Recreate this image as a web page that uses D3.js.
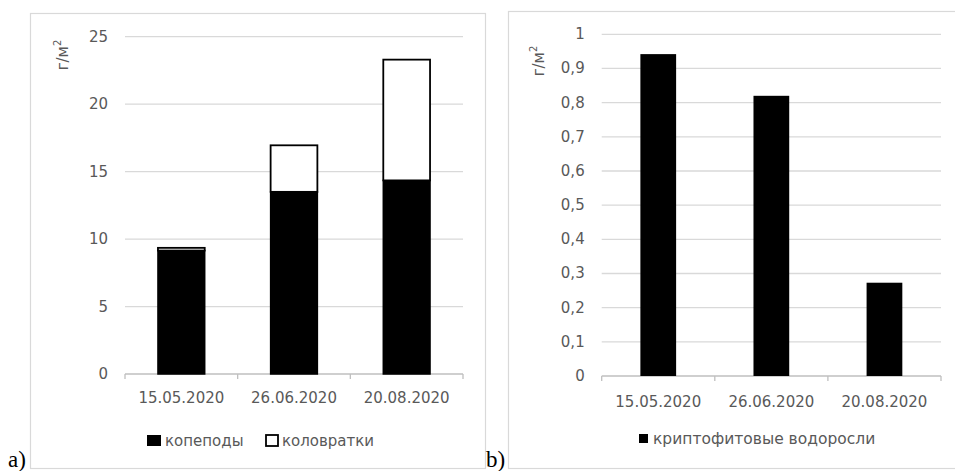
<!DOCTYPE html>
<html>
<head>
<meta charset="utf-8">
<script src="https://cdn.jsdelivr.net/npm/d3@7"></script>
<style>
  body { margin: 0; background: #fff; }
  svg { display: block; }
  text { font-family: "DejaVu Sans", sans-serif; fill: #595959; }
</style>
</head>
<body>
<svg id="chart" width="955" height="471"></svg>
<script>
// данные
const dates = ['15.05.2020', '26.06.2020', '20.08.2020'];
const copepods = [9.15, 13.5, 14.35];   // копеподы
const rotifers = [0.2, 3.45, 8.95];     // коловратки
const cryptophytes = [0.942, 0.82, 0.273]; // криптофитовые водоросли
const ticksA = [0, 5, 10, 15, 20, 25];
const ticksB = [0, 0.1, 0.2, 0.3, 0.4, 0.5, 0.6, 0.7, 0.8, 0.9, 1];

const svg = d3.select('#chart');
const grid = '#d9d9d9';

// рамки панелей
svg.append('rect').attr('x', 30.5).attr('y', 13.5).attr('width', 455).attr('height', 455)
  .attr('fill', 'none').attr('stroke', grid).attr('stroke-width', 1.2);
svg.append('rect').attr('x', 508.5).attr('y', 11.5).attr('width', 460).attr('height', 457)
  .attr('fill', 'none').attr('stroke', grid).attr('stroke-width', 1.2);

function drawPanel({ left, right, top, bottom, ticks, fmt, max, barRatio, titleX, titleY, labelY }) {
  const x = d3.scaleBand().domain(dates).range([left, right]).padding(0);
  const y = d3.scaleLinear().domain([0, max]).range([bottom, top]);
  const g = svg.append('g');

  // сетка
  g.selectAll('line.grid').data(ticks.slice(1)).join('line')
    .attr('class', 'grid')
    .attr('x1', left).attr('x2', right)
    .attr('y1', d => y(d)).attr('y2', d => y(d))
    .attr('stroke', grid).attr('stroke-width', 1.3);

  // подписи оси Y
  g.selectAll('text.yt').data(ticks).join('text')
    .attr('class', 'yt')
    .attr('x', left - 17).attr('y', d => y(d))
    .attr('text-anchor', 'end').attr('dominant-baseline', 'central')
    .style('font-size', '15px')
    .text(fmt);

  // ось X
  g.append('line').attr('x1', left).attr('x2', right)
    .attr('y1', bottom).attr('y2', bottom)
    .attr('stroke', '#bfbfbf').attr('stroke-width', 1.3);
  const bounds = dates.map(d => x(d)).concat([right]);
  g.selectAll('line.xt').data(bounds).join('line')
    .attr('class', 'xt')
    .attr('x1', d => d).attr('x2', d => d)
    .attr('y1', bottom).attr('y2', bottom + 5)
    .attr('stroke', '#bfbfbf').attr('stroke-width', 1.3);
  g.selectAll('text.xl').data(dates).join('text')
    .attr('class', 'xl')
    .attr('x', d => x(d) + x.bandwidth() / 2).attr('y', labelY)
    .attr('text-anchor', 'middle').attr('dominant-baseline', 'central')
    .style('font-size', '15px')
    .text(d => d);

  // заголовок оси
  const t = g.append('text')
    .attr('transform', `translate(${titleX},${titleY}) rotate(-90)`)
    .attr('text-anchor', 'middle').attr('dominant-baseline', 'central')
    .style('font-size', '15px');
  t.append('tspan').text('г/м');
  t.append('tspan').attr('dy', -6).style('font-size', '10px').text('2');

  const bw = x.bandwidth() * barRatio;
  const bx = d => x(d) + (x.bandwidth() - bw) / 2;
  return { g, x, y, bw, bx };
}

// панель a
const pa = drawPanel({
  left: 125, right: 463, top: 36.7, bottom: 374, ticks: ticksA,
  fmt: d => d, max: 25, barRatio: 0.415, titleX: 63, titleY: 55, labelY: 398
});
pa.g.selectAll('rect.cop').data(dates).join('rect')
  .attr('x', d => pa.bx(d)).attr('width', pa.bw)
  .attr('y', (d, i) => pa.y(copepods[i]))
  .attr('height', (d, i) => pa.y(0) - pa.y(copepods[i]))
  .attr('fill', '#000').attr('stroke', '#000').attr('stroke-width', 1.5);
pa.g.selectAll('rect.rot').data(dates).join('rect')
  .attr('x', d => pa.bx(d)).attr('width', pa.bw)
  .attr('y', (d, i) => pa.y(copepods[i] + rotifers[i]))
  .attr('height', (d, i) => pa.y(copepods[i]) - pa.y(copepods[i] + rotifers[i]))
  .attr('fill', '#fff').attr('stroke', '#000').attr('stroke-width', 1.8);

// легенда a
const la = svg.append('g');
la.append('rect').attr('x', 147).attr('y', 435).attr('width', 14).attr('height', 11).attr('fill', '#000');
la.append('text').attr('x', 165).attr('y', 440.5).attr('dominant-baseline', 'central')
  .style('font-size', '15px').text('копеподы');
la.append('rect').attr('x', 266).attr('y', 435).attr('width', 12).attr('height', 11)
  .attr('fill', '#fff').attr('stroke', '#000').attr('stroke-width', 1.8);
la.append('text').attr('x', 282).attr('y', 440.5).attr('dominant-baseline', 'central')
  .style('font-size', '15px').text('коловратки');

// панель b
const pb = drawPanel({
  left: 601.7, right: 941, top: 34.3, bottom: 376, ticks: ticksB,
  fmt: d => String(d).replace('.', ','), max: 1, barRatio: 0.316,
  titleX: 539, titleY: 61, labelY: 401.5
});
pb.g.selectAll('rect.cry').data(dates).join('rect')
  .attr('x', d => pb.bx(d)).attr('width', pb.bw)
  .attr('y', (d, i) => pb.y(cryptophytes[i]))
  .attr('height', (d, i) => pb.y(0) - pb.y(cryptophytes[i]))
  .attr('fill', '#000');

// легенда b
const lb = svg.append('g');
lb.append('rect').attr('x', 639).attr('y', 434).attr('width', 9).attr('height', 9).attr('fill', '#000');
lb.append('text').attr('x', 653).attr('y', 438.5).attr('dominant-baseline', 'central')
  .style('font-size', '15.5px').text('криптофитовые водоросли');

// метки панелей
svg.append('text').attr('x', 8).attr('y', 467)
  .style('font-family', '"Liberation Serif", serif').style('font-size', '23px').style('fill', '#000')
  .text('a)');
svg.append('text').attr('x', 486).attr('y', 467)
  .style('font-family', '"Liberation Serif", serif').style('font-size', '23px').style('fill', '#000')
  .text('b)');
</script>
</body>
</html>
